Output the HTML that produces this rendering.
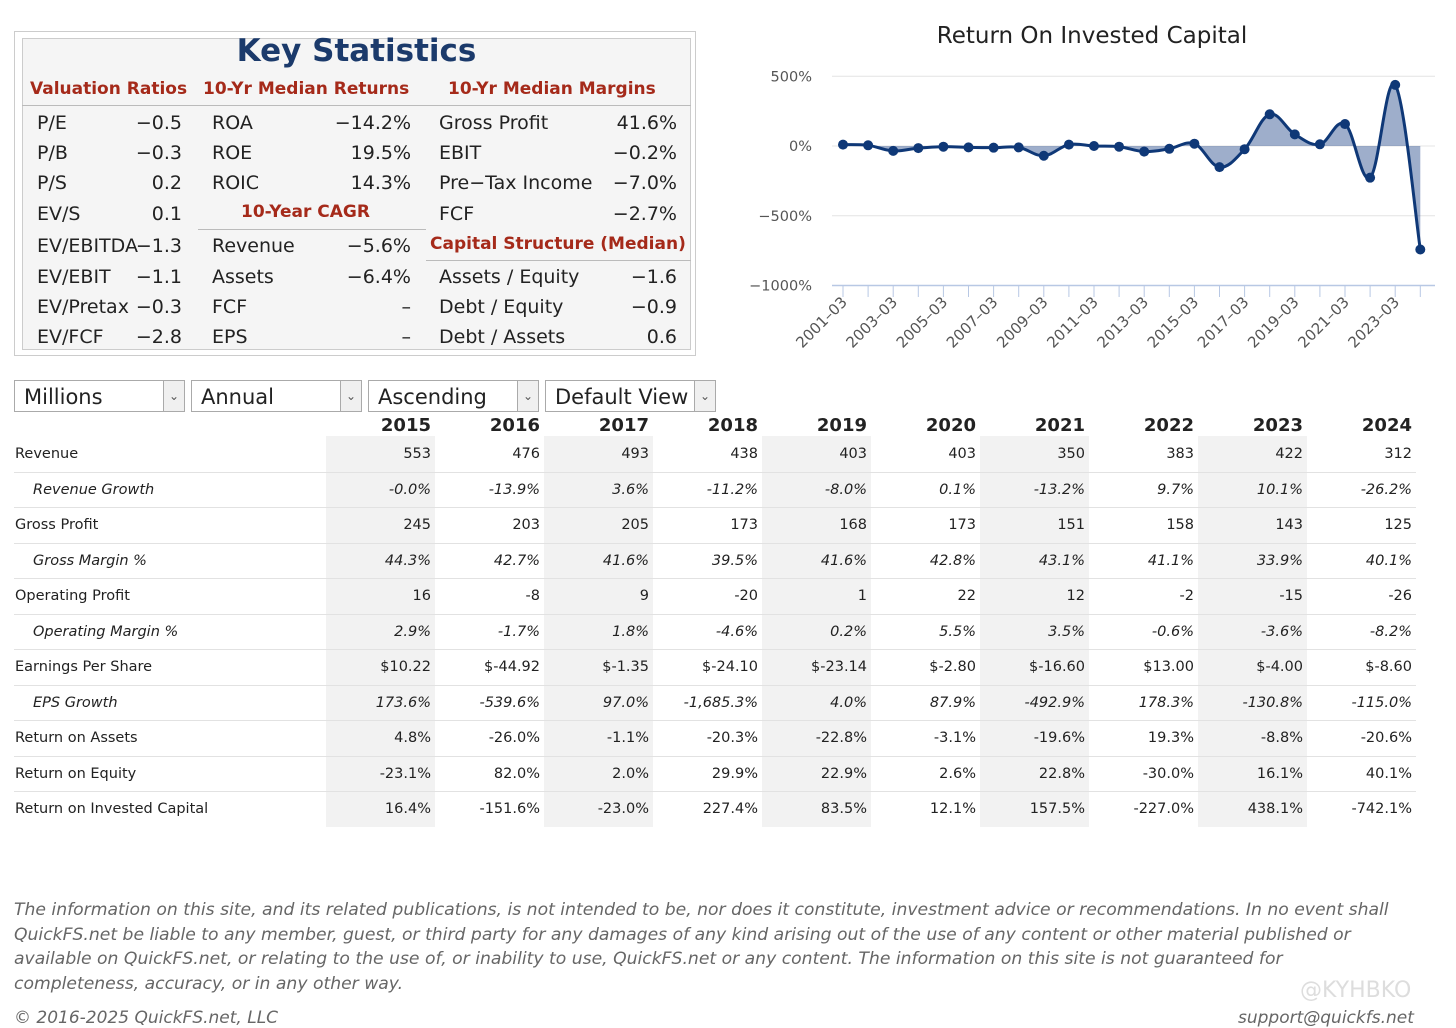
<!DOCTYPE html>
<html><head><meta charset="utf-8">
<style>
body{margin:0;width:1456px;height:1023px;overflow:hidden;background:#fff;font-family:"DejaVu Sans","Liberation Sans",sans-serif;color:#222;position:relative}
.abs{position:absolute}
.ks{left:14px;top:31px;width:682px;height:325px;border:1px solid #ccc;box-sizing:border-box}
.ksin{left:22px;top:38px;width:669px;height:312px;border:1px solid #ccc;background:#f5f5f5;box-sizing:border-box}
.kt{font-size:19px;color:#222;white-space:nowrap}
.hd{font-size:17px;color:#a52a1a;font-weight:bold;white-space:nowrap}
.r{text-align:right}
.sel{top:380px;height:32px;border:1px solid #aaa;box-sizing:border-box;font-size:21px;padding-left:9px;line-height:33px;background:#fff}
.sel .ar{position:absolute;right:0;top:0;width:20px;height:30px;border-left:1px solid #aaa;background:#f0f0f0;font-size:12px;text-align:center;line-height:30px;color:#555}
.cell{font-size:14.5px;text-align:right;white-space:nowrap}
.lab{font-size:14.5px;white-space:nowrap}
.foot{font-family:"DejaVu Sans",sans-serif;font-style:italic;color:#666;font-size:17.2px;line-height:24.5px;left:14px;top:898px;width:1392px}
</style></head><body>
<div class="abs ks"></div>
<div class="abs ksin"></div>
<div class="abs" style="left:22px;width:669px;top:33px;text-align:center;font-size:31px;font-weight:bold;color:#1b3a6b">Key Statistics</div>
<div class="abs hd" style="left:30px;top:79px">Valuation Ratios</div>
<div class="abs hd" style="left:203px;top:79px">10-Yr Median Returns</div>
<div class="abs hd" style="left:448px;top:79px">10-Yr Median Margins</div>
<div class="abs" style="left:22px;top:105px;width:669px;height:1px;background:#bbb"></div>
<div class="abs hd" style="left:241px;top:202px">10-Year CAGR</div>
<div class="abs" style="left:198px;top:229px;width:228px;height:1px;background:#bbb"></div>
<div class="abs hd" style="left:430px;top:234px">Capital Structure (Median)</div>
<div class="abs" style="left:426px;top:260px;width:265px;height:1px;background:#bbb"></div>
<div id="ksrows"></div>

<svg class="abs" style="left:0;top:0" width="1456" height="370">
<text x="1092" y="43" text-anchor="middle" font-family="DejaVu Sans, sans-serif" font-size="23" fill="#222">Return On Invested Capital</text>
<g id="grid"></g><g id="series"></g><g id="xax"></g>
</svg>

<div class="abs sel" style="left:14px;width:171px">Millions<div class="ar">&#8964;</div></div>
<div class="abs sel" style="left:191px;width:171px">Annual<div class="ar">&#8964;</div></div>
<div class="abs sel" style="left:368px;width:171px">Ascending<div class="ar">&#8964;</div></div>
<div class="abs sel" style="left:545px;width:171px">Default View<div class="ar">&#8964;</div></div>
<div id="table"></div>

<div class="abs foot">The information on this site, and its related publications, is not intended to be, nor does it constitute, investment advice or recommendations. In no event shall QuickFS.net be liable to any member, guest, or third party for any damages of any kind arising out of the use of any content or other material published or available on QuickFS.net, or relating to the use of, or inability to use, QuickFS.net or any content. The information on this site is not guaranteed for completeness, accuracy, or in any other way.</div>
<div class="abs" style="left:14px;top:1008px;font-style:italic;color:#666;font-size:17px">© 2016-2025 QuickFS.net, LLC</div>
<div class="abs" style="left:1238px;top:1008px;font-style:italic;color:#666;font-size:17px">support@quickfs.net</div>
<div class="abs" style="left:1300px;top:978px;color:#ddd;font-size:22px">@KYHBKO</div>

<script>
const ksCol1=[["P/E","-0.5"],["P/B","-0.3"],["P/S","0.2"],["EV/S","0.1"],["EV/EBITDA","-1.3"],["EV/EBIT","-1.1"],["EV/Pretax","-0.3"],["EV/FCF","-2.8"]];
const ksCol2=[["ROA","-14.2%"],["ROE","19.5%"],["ROIC","14.3%"],null,["Revenue","-5.6%"],["Assets","-6.4%"],["FCF","–"],["EPS","–"]];
const ksCol3=[["Gross Profit","41.6%"],["EBIT","-0.2%"],["Pre-Tax Income","-7.0%"],["FCF","-2.7%"],null,["Assets / Equity","-1.6"],["Debt / Equity","-0.9"],["Debt / Assets","0.6"]];
const ksY=[112,142,172,203,235,266,296,326];
(function(){
const host=document.getElementById('ksrows');
[[ksCol1,37,182],[ksCol2,212,411],[ksCol3,439,677]].forEach(([col,lx,rx])=>{
col.forEach((d,i)=>{ if(!d) return;
const a=document.createElement('div');a.className='abs kt';a.style.left=lx+'px';a.style.top=ksY[i]+'px';a.textContent=d[0].replace(/-/g,'−');


host.appendChild(a);
const b=document.createElement('div');b.className='abs kt r';b.style.left=(rx-120)+'px';b.style.width='120px';b.style.top=ksY[i]+'px';b.textContent=d[1].replace(/-/g,'−');


host.appendChild(b);
});});
})();

const years=["2001-03","2002-03","2003-03","2004-03","2005-03","2006-03","2007-03","2008-03","2009-03","2010-03","2011-03","2012-03","2013-03","2014-03","2015-03","2016-03","2017-03","2018-03","2019-03","2020-03","2021-03","2022-03","2023-03","2024-03"];
const roic=[10,5,-35,-15,-5,-10,-12,-10,-70,10,0,-5,-40,-20,16.4,-151.6,-23.0,227.4,83.5,12.1,157.5,-227.0,438.1,-742.1];
const yTicks=[500,0,-500,-1000];
const yTickLabels=["500%","0%","−500%","−1000%"];
(function(){
const NS='http://www.w3.org/2000/svg';
const y=v=>146-v*0.1395;
const x=i=>843+i*25.1;
const grid=document.getElementById('grid');
yTicks.forEach((t,k)=>{
const l=document.createElementNS(NS,'line');l.setAttribute('x1',832);l.setAttribute('x2',1435);l.setAttribute('y1',y(t));l.setAttribute('y2',y(t));
l.setAttribute('stroke',t===-1000?'#b8c8e4':'#e4e4e4');l.setAttribute('stroke-width',t===-1000?1.5:1);


grid.appendChild(l);
const tx=document.createElementNS(NS,'text');tx.setAttribute('x',812);tx.setAttribute('y',y(t)+5);tx.setAttribute('text-anchor','end');
tx.setAttribute('font-size','14.5');tx.setAttribute('fill','#555');tx.setAttribute('font-family','DejaVu Sans, sans-serif');tx.textContent=yTickLabels[k];


grid.appendChild(tx);
});
const pts=roic.map((v,i)=>[x(i),y(v)]);
let d='M'+pts[0][0]+','+pts[0][1];
for(let i=0;i<pts.length-1;i++){
const p0=pts[Math.max(i-1,0)],p1=pts[i],p2=pts[i+1],p3=pts[Math.min(i+2,pts.length-1)];
const t=0.18;
d+=` C${p1[0]+(p2[0]-p0[0])*t},${p1[1]+(p2[1]-p0[1])*t} ${p2[0]-(p3[0]-p1[0])*t},${p2[1]-(p3[1]-p1[1])*t} ${p2[0]},${p2[1]}`;
}
const s=document.getElementById('series');
const area=document.createElementNS(NS,'path');
area.setAttribute('d',d+` L${pts[pts.length-1][0]},${y(0)} L${pts[0][0]},${y(0)} Z`);
area.setAttribute('fill','rgba(24,62,132,0.42)');


s.appendChild(area);
const line=document.createElementNS(NS,'path');line.setAttribute('d',d);line.setAttribute('fill','none');line.setAttribute('stroke','#0f3877');line.setAttribute('stroke-width','3');


s.appendChild(line);
pts.forEach(p=>{const c=document.createElementNS(NS,'circle');c.setAttribute('cx',p[0]);c.setAttribute('cy',p[1]);c.setAttribute('r',5);c.setAttribute('fill','#0f3877');


s.appendChild(c);});
const xa=document.getElementById('xax');
years.forEach((yr,i)=>{
const tk=document.createElementNS(NS,'line');tk.setAttribute('x1',x(i));tk.setAttribute('x2',x(i));tk.setAttribute('y1',286);tk.setAttribute('y2',297);tk.setAttribute('stroke','#b8c8e4');
xa.appendChild(tk);
if(i%2===0){
const tx=document.createElementNS(NS,'text');tx.setAttribute('font-size','15');tx.setAttribute('fill','#555');tx.setAttribute('font-family','DejaVu Sans, sans-serif');
tx.setAttribute('text-anchor','end');tx.setAttribute('transform',`translate(${x(i)+5},${303}) rotate(-45)`);tx.textContent=yr.replace('-','–');


xa.appendChild(tx);}
});
})();

const tYears=["2015","2016","2017","2018","2019","2020","2021","2022","2023","2024"];
const rowLabels=["Revenue","Revenue Growth","Gross Profit","Gross Margin %","Operating Profit","Operating Margin %","Earnings Per Share","EPS Growth","Return on Assets","Return on Equity","Return on Invested Capital"];
const rowItalic=[0,1,0,1,0,1,0,1,0,0,0];
const revenue=["553","476","493","438","403","403","350","383","422","312"];
const revGrowth=["-0.0%","-13.9%","3.6%","-11.2%","-8.0%","0.1%","-13.2%","9.7%","10.1%","-26.2%"];
const grossProfit=["245","203","205","173","168","173","151","158","143","125"];
const grossMargin=["44.3%","42.7%","41.6%","39.5%","41.6%","42.8%","43.1%","41.1%","33.9%","40.1%"];
const opProfit=["16","-8","9","-20","1","22","12","-2","-15","-26"];
const opMargin=["2.9%","-1.7%","1.8%","-4.6%","0.2%","5.5%","3.5%","-0.6%","-3.6%","-8.2%"];
const eps=["$10.22","$-44.92","$-1.35","$-24.10","$-23.14","$-2.80","$-16.60","$13.00","$-4.00","$-8.60"];
const epsGrowth=["173.6%","-539.6%","97.0%","-1,685.3%","4.0%","87.9%","-492.9%","178.3%","-130.8%","-115.0%"];
const roa=["4.8%","-26.0%","-1.1%","-20.3%","-22.8%","-3.1%","-19.6%","19.3%","-8.8%","-20.6%"];
const roe=["-23.1%","82.0%","2.0%","29.9%","22.9%","2.6%","22.8%","-30.0%","16.1%","40.1%"];
const roicRow=["16.4%","-151.6%","-23.0%","227.4%","83.5%","12.1%","157.5%","-227.0%","438.1%","-742.1%"];
(function(){
const rows=[revenue,revGrowth,grossProfit,grossMargin,opProfit,opMargin,eps,epsGrowth,roa,roe,roicRow];
const host=document.getElementById('table');
const colL=i=>326+i*109;
tYears.forEach((yr,i)=>{
if(i%2===0){const sh=document.createElement('div');sh.className='abs';sh.style.cssText=`left:${colL(i)}px;top:436px;width:109px;height:391px;background:#f2f2f2`;


host.appendChild(sh);}
const h=document.createElement('div');h.className='abs';h.style.cssText=`left:${colL(i)}px;width:105px;top:415px;text-align:right;font-weight:bold;font-size:18px`;h.textContent=yr;


host.appendChild(h);
});
rows.forEach((r,ri)=>{
const top=436+ri*35.5;
if(ri>0){const ln=document.createElement('div');ln.className='abs';ln.style.cssText=`left:14px;top:${top}px;width:1402px;height:1px;background:#e2e2e2`;host.appendChild(ln);}
const lb=document.createElement('div');lb.className='abs lab';lb.style.cssText=`left:${rowItalic[ri]?33:15}px;top:${top+10}px;${rowItalic[ri]?'font-style:italic':''}`;lb.textContent=rowLabels[ri];


host.appendChild(lb);
r.forEach((v,i)=>{const c=document.createElement('div');c.className='abs cell';c.style.cssText=`left:${colL(i)}px;width:105px;top:${top+10}px;${rowItalic[ri]?'font-style:italic':''}`;c.textContent=v;


host.appendChild(c);});
});
})();
</script>
</body></html>
